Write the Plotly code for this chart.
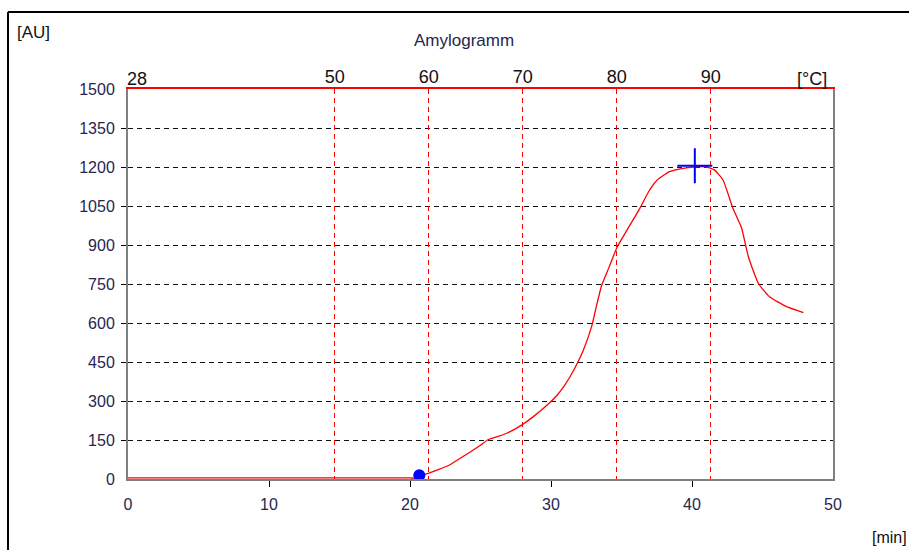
import plotly.graph_objects as go

# Amylogram: viscosity (AU) over time (min), heating ramp shown on the top axis (°C)
time_min = [0, 5, 10, 15, 20.0, 20.4, 20.7, 21.3, 22.0, 22.8, 23.5, 24.3, 25.0, 25.5,
            26.2, 26.9, 27.5, 28.0, 28.7, 29.3, 29.9, 30.4, 30.9, 31.4, 31.9, 32.3,
            32.9, 33.2, 33.6, 34.1, 34.7, 35.4, 36.3, 36.9, 37.5, 38.4, 39.6, 40.3,
            41.0, 41.6, 42.2, 42.9, 43.5, 44.0, 44.7, 45.5, 46.7, 47.9]
viscosity_au = [4, 4, 4, 4, 4, 4, 12, 22, 36, 54, 78, 105, 130, 150,
                163, 177, 194, 210, 238, 264, 293, 320, 355, 398, 449, 496,
                590, 660, 746, 812, 893, 958, 1041, 1103, 1148, 1182, 1197, 1201,
                1201, 1188, 1150, 1041, 968, 855, 753, 701, 663, 640]

onset_min, onset_au = 20.66, 14      # start of gelatinisation
peak_min, peak_au = 40.2, 1205       # viscosity maximum

temp_start = 28                      # °C at t = 0
heating_rate = 1.5                   # °C per minute
temp_ticks = [50, 60, 70, 80, 90]

x_range = [0, 50]
x_ticks = [0, 10, 20, 30, 40, 50]
y_range = [0, 1500]
y_ticks = [0, 150, 300, 450, 600, 750, 900, 1050, 1200, 1350, 1500]

label_color = "#262650"
tick_font = dict(family="Liberation Sans, Arial, sans-serif", size=16, color=label_color)
temp_font = dict(family="Liberation Sans, Arial, sans-serif", size=18, color="#111111")

fig = go.Figure()

fig.add_trace(go.Scatter(
    x=time_min, y=viscosity_au, mode="lines",
    line=dict(color="#ff0000", width=1.3, shape="spline", smoothing=0.5),
    hoverinfo="skip", showlegend=False))

fig.add_trace(go.Scatter(
    x=[onset_min], y=[onset_au], mode="markers",
    marker=dict(color="#0000ff", size=12, symbol="circle"), showlegend=False))

fig.add_trace(go.Scatter(
    x=[peak_min], y=[peak_au], mode="markers",
    marker=dict(color="#0000ff", size=25, symbol="cross-thin",
                line=dict(color="#0000ff", width=2)), showlegend=False))

# invisible trace that binds the temperature axis
temp_end = temp_start + heating_rate * x_range[1]
fig.add_trace(go.Scatter(
    x=[temp_start, temp_end], y=[None, None], xaxis="x2", mode="lines",
    showlegend=False, hoverinfo="skip"))

fig.update_layout(
    width=909, height=550,
    margin=dict(l=128, r=76, t=89, b=71),
    paper_bgcolor="white", plot_bgcolor="white",
    xaxis=dict(
        range=x_range, tickvals=x_ticks, ticks="", showgrid=False, zeroline=False,
        showline=True, linecolor="#808080", linewidth=2,
        tickfont=tick_font, ticklabelstandoff=10,
        minor=dict(tickmode="array", tickvals=x_ticks[1:-1], ticks="outside",
                   ticklen=6, tickcolor="black", tickwidth=1, showgrid=False),
    ),
    xaxis2=dict(
        range=[temp_start, temp_end], overlaying="x", side="top", anchor="y",
        tickvals=temp_ticks, ticktext=[str(t) for t in temp_ticks], ticks="",
        showgrid=True, gridcolor="#ff0000", gridwidth=1.2, griddash="5px,4px",
        showline=True, linecolor="#ff0000", linewidth=2, zeroline=False,
        tickfont=temp_font, ticklabelstandoff=-3,
    ),
    yaxis=dict(
        range=y_range, tickvals=y_ticks, ticks="", showgrid=False, zeroline=False,
        showline=True, linecolor="#808080", linewidth=2, mirror=True,
        tickfont=tick_font, ticklabelstandoff=8,
        minor=dict(tickmode="array", tickvals=y_ticks[1:-1], ticks="outside",
                   ticklen=5, tickcolor="black", tickwidth=1,
                   showgrid=True, gridcolor="#111111", gridwidth=1.4, griddash="5px,4px"),
    ),
    annotations=[
        dict(text="Amylogramm", xref="paper", yref="paper", x=0.4766, y=1.125,
             xanchor="center", yanchor="middle", showarrow=False,
             font=dict(family="Liberation Sans, Arial, sans-serif", size=17, color=label_color)),
        dict(text="[AU]", xref="paper", yref="paper", x=-0.1600, y=1.146,
             xanchor="left", yanchor="middle", showarrow=False,
             font=dict(family="Liberation Sans, Arial, sans-serif", size=17, color="#111111")),
        dict(text="[min]", xref="paper", yref="paper", x=1.0530, y=-0.151,
             xanchor="left", yanchor="middle", showarrow=False,
             font=dict(family="Liberation Sans, Arial, sans-serif", size=16, color="#111111")),
        dict(text=str(temp_start), xref="x2", yref="paper", x=temp_start, y=1.026,
             xanchor="left", yanchor="middle", showarrow=False, font=temp_font,
             xshift=-3),
        dict(text="[°C]", xref="paper", yref="paper", x=0.9702, y=1.026,
             xanchor="center", yanchor="middle", showarrow=False, font=temp_font),
    ],
    shapes=[
        # outer frame (top and left edges visible in the window)
        dict(type="line", xref="paper", yref="paper", x0=-0.1702, x1=1.2, y0=1.1974, y1=1.1974,
             line=dict(color="black", width=2)),
        dict(type="line", xref="paper", yref="paper", x0=-0.1702, x1=-0.1702, y0=1.1974, y1=-0.3,
             line=dict(color="black", width=2)),
    ],
)

fig.write_html("out.html")
